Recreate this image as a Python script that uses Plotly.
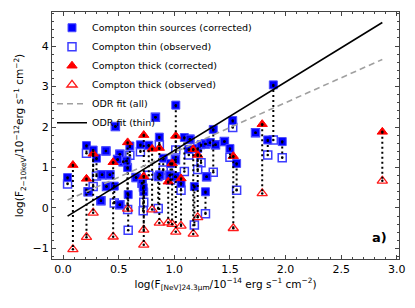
import plotly.graph_objects as go

# Compton thin sources: x, corrected y, observed y
thin_x = [0.04, 0.21, 0.27, 0.30, 0.225, 0.34, 0.385, 0.47, 0.35, 0.42, 0.39, 0.46, 0.51, 0.51,
          0.54, 0.49, 0.60, 0.58, 0.585, 0.57, 0.695, 0.656, 0.71, 0.725, 0.72, 0.77, 0.83, 0.865,
          0.855, 0.90, 1.013, 0.966, 0.96, 1.01, 1.01, 1.06, 1.09, 1.14, 1.13, 1.18, 1.21, 1.24,
          1.28, 1.32, 1.35, 1.37, 1.29, 1.28, 1.45, 1.50, 1.525, 1.56, 1.73, 1.84, 1.89, 1.97, 0.87]
thin_corr = [0.75, 1.54, 1.43, 1.23, 0.40, 0.18, 1.41, 2.01, 0.82, 0.82, 0.53, 0.54, 0.08, 1.33,
             1.14, 1.20, 1.53, 1.00, 0.33, 1.16, 1.56, 0.75, 0.61, 0.40, 0.50, 1.55, 2.24, 1.75,
             0.77, 1.23, 2.54, 1.10, 0.81, 1.19, 0.77, 0.61, 1.74, 1.70, 1.45, 0.53, 1.47, 1.56,
             1.58, 1.61, 1.94, 1.56, 0.77, 0.40, 1.64, 1.47, 2.16, 1.10, 1.86, 1.68, 3.04, 1.64, 0.81]
thin_obs = [0.59, 1.35, 0.53, 0.79, 0.40, 0.18, 1.41, 2.01, 0.82, 0.82, 0.53, 0.12, 0.08, 1.33,
            1.14, 1.20, 1.30, -0.04, -0.55, 1.16, 1.39, 0.75, 0.61, 0.14, -0.07, 0.81, 2.24, 1.56,
            -0.01, 0.94, 1.43, 0.69, 0.81, 1.19, 0.77, 0.44, 0.90, 1.70, 1.31, -0.42, 0.95, 1.12,
            1.58, 1.61, 0.88, 1.56, 0.77, -0.14, 1.64, 1.25, 1.99, 0.44, 1.86, 1.31, 1.68, 1.24, 0.81]

# Compton thick sources: x, corrected y, observed y
thick_x = [0.088, 0.21, 0.27, 0.45, 0.58, 0.725, 0.725, 0.80, 0.865, 0.945, 0.98, 1.013,
           1.06, 1.17, 1.21, 1.53, 1.79, 2.87]
thick_corr = [1.06, 0.72, 1.34, 1.13, 1.62, 1.80, 0.78, 1.46, 1.48, 0.65, 1.10, 1.78,
              0.73, 1.45, 1.31, 1.28, 2.07, 1.88]
thick_obs = [-1.02, -0.72, -0.12, -0.71, -0.02, -0.91, -0.54, -0.04, -0.37, -0.36, -0.40, -0.59,
             -0.44, -0.64, -0.23, -0.50, 0.36, 0.67]

# ODR fits: slope, intercept
fit_all = (1.227, 0.147)
fit_thin = (1.69, -0.27)

x_ticks = [0.0, 0.5, 1.0, 1.5, 2.0, 2.5, 3.0]
y_ticks = [-1, 0, 1, 2, 3, 4]

FONT = "DejaVu Sans"
fig = go.Figure()

# connecting dotted lines
lx, ly = [], []
for x, c, o in zip(thin_x + thick_x, thin_corr + thick_corr, thin_obs + thick_obs):
    lx += [x, x, None]
    ly += [c, o, None]

fig.add_trace(go.Scatter(x=thin_x, y=thin_obs, mode="markers", name="Compton thin (observed)",
                         legendrank=2,
                         marker=dict(symbol="square-open", size=8, color="#3c3cff",
                                     line=dict(width=1.5, color="#3c3cff"))))
fig.add_trace(go.Scatter(x=thick_x, y=thick_obs, mode="markers", name="Compton thick (observed)",
                         legendrank=4,
                         marker=dict(symbol="triangle-up-open", size=9, color="#ff1a1a",
                                     line=dict(width=1.3, color="#ff1a1a"))))
fig.add_trace(go.Scatter(x=thin_x, y=thin_corr, mode="markers",
                         name="Compton thin sources (corrected)", legendrank=1,
                         marker=dict(symbol="square", size=8, color="#0000ff",
                                     line=dict(width=1, color="#4d4dff"))))
fig.add_trace(go.Scatter(x=thick_x, y=thick_corr, mode="markers", name="Compton thick (corrected)",
                         legendrank=3,
                         marker=dict(symbol="triangle-up", size=9, color="#ff0000",
                                     line=dict(width=1, color="#ff0000"))))
fig.add_trace(go.Scatter(x=lx, y=ly, mode="lines+markers", showlegend=False,
                         line=dict(color="black", width=2, dash="2px,3px"),
                         marker=dict(size=2.5, color="black")))

allx = thin_x + thick_x
x0, x1 = min(allx), max(allx)
fig.add_trace(go.Scatter(x=[x0, x1], y=[fit_all[0] * x0 + fit_all[1], fit_all[0] * x1 + fit_all[1]],
                         mode="lines", name="ODR fit (all)", legendrank=5,
                         line=dict(color="#a0a0a0", width=1.6, dash="6px,4px")))
fig.add_trace(go.Scatter(x=[x0, x1], y=[fit_thin[0] * x0 + fit_thin[1], fit_thin[0] * x1 + fit_thin[1]],
                         mode="lines", name="ODR fit (thin)", legendrank=6,
                         line=dict(color="black", width=1.6)))

axis_common = dict(showline=True, linecolor="#444", linewidth=1, mirror="allticks",
                   ticks="inside", ticklen=4, tickcolor="#444", showgrid=False, zeroline=False,
                   automargin=False,
                   tickfont=dict(family=FONT, size=11, color="black"))
fig.update_xaxes(range=[-0.1, 3.02], tickvals=x_ticks, ticktext=[f"{v:.1f}" for v in x_ticks],
                 minor=dict(dtick=0.1, ticks="inside", ticklen=2, tickcolor="#444"),
                 title=dict(text="log(F<sub>[NeV]24.3μm</sub>/10<sup>−14</sup> erg s<sup>−1</sup> cm<sup>−2</sup>)",
                            font=dict(family=FONT, size=10.5, color="black"), standoff=4),
                 **axis_common)
fig.update_yaxes(range=[-1.26, 4.84], tickvals=y_ticks, ticktext=[str(v).replace("-", "−") for v in y_ticks],
                 minor=dict(dtick=0.2, ticks="inside", ticklen=2, tickcolor="#444"),
                 title=dict(text="log(F<sub>2−10keV</sub>/10<sup>−12</sup>erg s<sup>−1</sup> cm<sup>−2</sup>)",
                            font=dict(family=FONT, size=10.5, color="black"), standoff=6),
                 **axis_common)

fig.add_annotation(text="<b>a)</b>", xref="paper", yref="paper", x=0.97, y=0.05,
                   xanchor="right", yanchor="bottom", showarrow=False,
                   font=dict(family=FONT, size=13, color="black"))

fig.update_layout(width=415, height=308, margin=dict(l=52, r=16, t=12, b=49, autoexpand=False),
                  paper_bgcolor="white", plot_bgcolor="white",
                  font=dict(family=FONT, size=10, color="black"),
                  legend=dict(x=0.0, y=0.995, xanchor="left", yanchor="top",
                              bgcolor="rgba(0,0,0,0)", font=dict(family=FONT, size=9.5),
                              itemwidth=30))

fig.write_html("out.html", config={"displayModeBar": False},
               post_script="document.body.style.margin='0';document.body.style.padding='0';")
